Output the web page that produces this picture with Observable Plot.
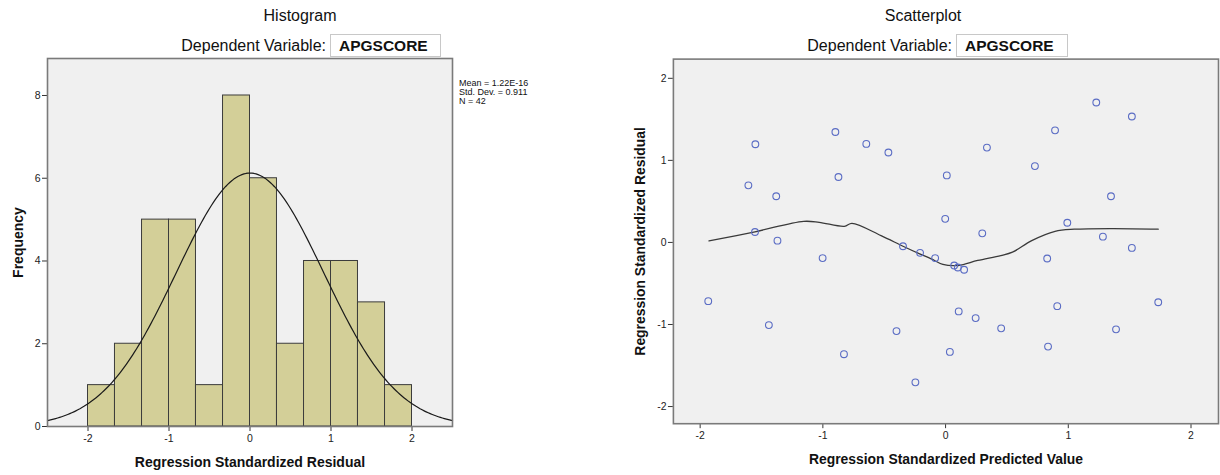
<!DOCTYPE html>
<html>
<head>
<meta charset="utf-8">
<script src="https://cdn.jsdelivr.net/npm/d3@7"></script>
<script src="https://cdn.jsdelivr.net/npm/@observablehq/plot@0.6"></script>
<style>
  html, body { margin: 0; padding: 0; background: #fff; overflow: hidden; }
  #wrap { position: relative; width: 1220px; height: 475px; overflow: hidden; font-family: "Liberation Sans", Arial, sans-serif; color: #111; }
  .panel { position: absolute; top: 0; }
  .title { position: absolute; font-size: 16px; white-space: nowrap; transform: translateX(-50%); }
  .dv { position: absolute; font-size: 16px; white-space: nowrap; }
  .box { position: absolute; border: 1px solid #c8c8c8; background: #fff; box-sizing: border-box; font-weight: bold; font-size: 15.5px; padding-left: 8px; line-height: 22px; }
  .legend { position: absolute; font-family: "Liberation Sans Narrow", "Liberation Sans", Arial, sans-serif; font-size: 9px; line-height: 9px; white-space: nowrap; }
</style>
</head>
<body>
<div id="wrap">
  <div class="title" style="left:300px; top:7px;">Histogram</div>
  <div class="dv" style="right:894px; top:37px;">Dependent Variable:</div>
  <div class="box" style="left:330px; top:34px; width:111px; height:23px;">APGSCORE</div>
  <div class="legend" style="left:459px; top:79px;">Mean = 1.22E-16<br>Std. Dev. = 0.911<br>N = 42</div>

  <div class="title" style="left:923px; top:7px;">Scatterplot</div>
  <div class="dv" style="right:268px; top:37px;">Dependent Variable:</div>
  <div class="box" style="left:956px; top:34px; width:112px; height:23px;">APGSCORE</div>

  <div id="hist" class="panel" style="left:0px;"></div>
  <div id="scat" class="panel" style="left:610px;"></div>
</div>
<script>
// ---------- Histogram data ----------
const binLo  = [-2.000, -1.667, -1.333, -1.000, -0.667, -0.333, 0.000, 0.333, 0.667, 1.000, 1.333, 1.667];
const binHi  = [-1.667, -1.333, -1.000, -0.667, -0.333, 0.000, 0.333, 0.667, 1.000, 1.333, 1.667, 2.000];
const counts = [1, 2, 5, 5, 1, 8, 6, 2, 4, 4, 3, 1];
const histTicksX = [-2, -1, 0, 1, 2];
const histTicksY = [0, 2, 4, 6, 8];
// summary statistics printed on the chart (used for the fitted normal curve)
const statMean = 1.22e-16;
const statSD = 0.911;
const statN = 42;

// ---------- Scatterplot data ----------
const predicted = [-1.607, -1.550, -1.380, -1.553, -1.370, -0.898, -0.873, -0.646, -0.466, 0.010, -0.003, 0.299, 0.337, 0.728, 0.892, 1.228, 1.518, 1.348, 0.992, 1.282, 1.518, -0.347,
                   -1.002, -0.208, -0.085, 0.070, 0.100, 0.151, 0.828, -1.934, -1.440, -0.400, -0.828, -0.246, 0.035, 0.107, 0.245, 0.453, 0.910, 0.835, 1.389, 1.733];
const residual  = [0.696, 1.196, 0.563, 0.127, 0.022, 1.346, 0.797, 1.201, 1.096, 0.817, 0.288, 0.111, 1.156, 0.930, 1.366, 1.705, 1.535, 0.563, 0.240, 0.070, -0.067, -0.046,
                   -0.191, -0.127, -0.191, -0.281, -0.305, -0.333, -0.196, -0.716, -1.007, -1.080, -1.362, -1.705, -1.334, -0.841, -0.922, -1.047, -0.777, -1.269, -1.059, -0.729];
// fit line (loess)
const fitX = [-1.928, -1.553, -1.156, -1.030, -0.825, -0.763, -0.526, -0.347, -0.211, -0.117, -0.022, 0.104, 0.262, 0.450, 0.545, 0.702, 0.892, 1.049, 1.364, 1.733];
const fitY = [0.018, 0.130, 0.257, 0.245, 0.196, 0.232, 0.083, -0.046, -0.139, -0.200, -0.268, -0.281, -0.220, -0.160, -0.119, 0.022, 0.135, 0.161, 0.169, 0.161];
const scatTicks = [-2, -1, 0, 1, 2];

// ---------- Build tables ----------
const bins = counts.map((c, i) => ({x1: binLo[i], x2: binHi[i], y: c}));
const binW = binHi[0] - binLo[0];
const curveXs = d3.range(-2.5, 2.5001, 0.025);
const curve = curveXs.map(x => ({x, y: statN * binW * Math.exp(-0.5 * ((x - statMean) / statSD) ** 2) / (statSD * Math.sqrt(2 * Math.PI))}));
const pts = predicted.map((p, i) => ({x: p, y: residual[i]}));
const fit = fitX.map((x, i) => ({x, y: fitY[i]}));

const fmt = d => String(d);
const tickFont = {fontSize: 10.5, fill: "#222", tickFormat: fmt};

const hist = Plot.plot({
  width: 600, height: 475,
  marginLeft: 47, marginRight: 148, marginTop: 58, marginBottom: 49,
  style: {fontFamily: "'Liberation Sans', Arial, sans-serif", background: "transparent", color: "#222"},
  x: {domain: [-2.5, 2.5]},
  y: {domain: [0, 8.894]},
  marks: [
    Plot.frame({fill: "#f0f0f0"}),
    Plot.rectY(bins, {x1: "x1", x2: "x2", y: "y", fill: "#d3cf98", stroke: "#3c3c3c", strokeWidth: 1}),
    Plot.line(curve, {x: "x", y: "y", stroke: "#1a1a1a", strokeWidth: 1.2}),
    Plot.axisX({ticks: histTicksX, tickSize: 5, tickPadding: 3, label: null, ...tickFont, stroke: "#333"}),
    Plot.axisY({ticks: histTicksY, tickSize: 5, tickPadding: 2, label: null, ...tickFont, stroke: "#333"}),
    Plot.frame({stroke: "#7a7a7a", strokeWidth: 1.6}),
    Plot.text(["Regression Standardized Residual"], {frameAnchor: "bottom", dy: 36, textAnchor: "middle", lineAnchor: "middle", fontWeight: "bold", fontSize: 14, fill: "#111"}),
    Plot.text(["Frequency"], {frameAnchor: "left", dx: -29, rotate: -90, textAnchor: "middle", lineAnchor: "middle", fontWeight: "bold", fontSize: 14, fill: "#111"})
  ]
});
document.getElementById("hist").appendChild(hist);

const scat = Plot.plot({
  width: 614, height: 475,
  marginLeft: 63.3, marginRight: 2, marginTop: 59, marginBottom: 49,
  style: {fontFamily: "'Liberation Sans', Arial, sans-serif", background: "transparent", color: "#222"},
  x: {domain: [-2.218, 2.224]},
  y: {domain: [-2.209, 2.234]},
  marks: [
    Plot.frame({fill: "#f0f0f0"}),
    Plot.line(fit, {x: "x", y: "y", stroke: "#3a3a3a", strokeWidth: 1.3, curve: "catmull-rom"}),
    Plot.dot(pts, {x: "x", y: "y", r: 3.4, stroke: "#5a6cc4", strokeWidth: 1.1, fill: "none"}),
    Plot.axisX({ticks: scatTicks, tickSize: 5, tickPadding: 3, label: null, ...tickFont, stroke: "#333"}),
    Plot.axisY({ticks: scatTicks, tickSize: 5, tickPadding: 2, label: null, ...tickFont, stroke: "#333"}),
    Plot.frame({stroke: "#7a7a7a", strokeWidth: 1.6}),
    Plot.text(["Regression Standardized Predicted Value"], {frameAnchor: "bottom", dy: 36, textAnchor: "middle", lineAnchor: "middle", fontWeight: "bold", fontSize: 14, fill: "#111"}),
    Plot.text(["Regression Standardized Residual"], {frameAnchor: "left", dx: -33, rotate: -90, textAnchor: "middle", lineAnchor: "middle", fontWeight: "bold", fontSize: 14, fill: "#111"})
  ]
});
document.getElementById("scat").appendChild(scat);
</script>
</body>
</html>
